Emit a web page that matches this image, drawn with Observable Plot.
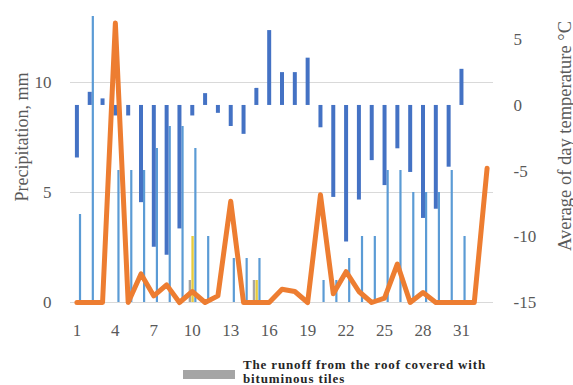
<!DOCTYPE html>
<html><head><meta charset="utf-8">
<script src="https://cdn.jsdelivr.net/npm/d3@7"></script>
<script src="https://cdn.jsdelivr.net/npm/@observablehq/plot@0.6"></script>
<style>
html,body{margin:0;padding:0;background:#fff;overflow:hidden;width:573px;height:385px}
#legend{display:flex;align-items:center;margin:3px 0 0 183px;font-family:"Liberation Serif",serif;color:#262626}
#legend .sw{width:52px;height:9px;background:#a5a5a5;margin-right:8px;margin-top:6px;flex:none}
#legend .tx{font-size:13px;line-height:13.5px;font-weight:700;letter-spacing:0.85px;white-space:nowrap}
</style></head><body><div id="chart"></div>
<div id="legend"><div class="sw"></div><div class="tx">The runoff from the roof covered with<br>bituminous tiles</div></div>
<script>
// Categories (days); the runoff line continues for two extra categories
const days = [1,2,3,4,5,6,7,8,9,10,11,12,13,14,15,16,17,18,19,20,21,22,23,24,25,26,27,28,29,30,31,32,33];
const precipitation = [4,13,0,6,6,6,7,8,8,7,3,0,2,2,2,0,0,0,0,1,1,2,3,3,6,6,5,5,5,6,3];
const temperature = [-4.0,1.0,0.5,-0.8,-0.8,-7.4,-10.8,-11.4,-9.4,-0.8,0.9,-0.6,-1.6,-2.2,1.3,5.7,2.5,2.5,3.6,-1.7,-7.0,-10.4,-7.2,-4.2,-6.1,-3.3,-5.1,-8.6,-7.9,-4.7,2.75];
const runoffBituminous = [0,0,0,0,0,0,0,0,0,1,0,0,0,0,1,0,0,0,0,0,0,0,0,0,0,0,0,0,0,0,0];
const runoffYellow = [0,0,0,0,0,0,0,0,0,3,0,0,0,0,1,0,0,0,0,0,0,0,0,0,0,0,0,0,0,0,0];
const runoffLine = [0,0,0,12.7,0,1.3,0.3,0.8,0,0.5,0,0.3,4.6,0,0,0,0.6,0.5,0,4.9,0.4,1.4,0.5,0,0.2,1.75,0,0.45,0,0,0,0,6.1];
const dayTicks = [1,4,7,10,13,16,19,22,25,28,31];
const precipTicks = [0,5,10];
const tempTicks = [-15,-10,-5,0,5];

// axis domains
const yMax = 13.136;             // precipitation, mm
const tMin = -15, tMax = 7;      // temperature, °C (secondary axis)
const k = yMax / (tMax - tMin);
const tmm = t => (t - tMin) * k;  // temperature -> primary axis units

const bars = days.slice(0, 31).map((d, i) => ({
  day: d, p: precipitation[i], t: temperature[i], g: runoffBituminous[i], yl: runoffYellow[i]
}));
const line = days.map((d, i) => ({day: d, v: runoffLine[i]}));

const chart = Plot.plot({
  width: 573, height: 355,
  marginLeft: 70, marginRight: 80, marginTop: 13, marginBottom: 53,
  style: {fontFamily: "'Liberation Serif', serif", fontSize: "17px", color: "#595959", background: "#fff"},
  x: {type: "linear", domain: [0.5, 33.5]},
  y: {domain: [0, yMax]},
  marks: [
    Plot.ruleY(precipTicks, {stroke: "#d9d9d9", strokeWidth: 1}),
    Plot.ruleX(bars.filter(d => d.g > 0), {x: "day", y1: 0, y2: "g", stroke: "#a5a5a5", strokeWidth: 2.4, dx: -2.4}),
    Plot.ruleX(bars.filter(d => d.yl > 0), {x: "day", y1: 0, y2: "yl", stroke: "#e8cc3c", strokeWidth: 2.4, dx: 0.3}),
    Plot.ruleX(bars.filter(d => d.p > 0), {x: "day", y1: 0, y2: "p", stroke: "#5b9bd5", strokeWidth: 2.2, dx: 3.1}),
    Plot.ruleX(bars, {x: "day", y1: () => tmm(0), y2: d => tmm(d.t), stroke: "#4472c4", strokeWidth: 4}),
    Plot.line(line, {x: "day", y: "v", stroke: "#ed7d31", strokeWidth: 5, strokeLinejoin: "round", strokeLinecap: "round"}),
    Plot.axisX(dayTicks, {tickSize: 0, tickPadding: 21, label: null}),
    Plot.axisY(precipTicks, {anchor: "left", tickSize: 0, tickPadding: 19, label: null}),
    Plot.axisY(tempTicks.map(tmm), {anchor: "right", tickSize: 0, tickPadding: 20, label: null,
      tickFormat: d => String(Math.round(d / k + tMin))}),
    Plot.text(["Precipitation, mm"], {frameAnchor: "left", textAnchor: "middle", lineAnchor: "middle", rotate: -90, dx: -48, dy: -21, fontSize: 18, fill: "#595959"}),
    Plot.text(["Average of day temperature °C"], {frameAnchor: "right", textAnchor: "middle", lineAnchor: "middle", rotate: -90, dx: 72, dy: -22, fontSize: 18.5, fill: "#595959"})
  ]
});
document.getElementById("chart").appendChild(chart);
</script></body></html>
